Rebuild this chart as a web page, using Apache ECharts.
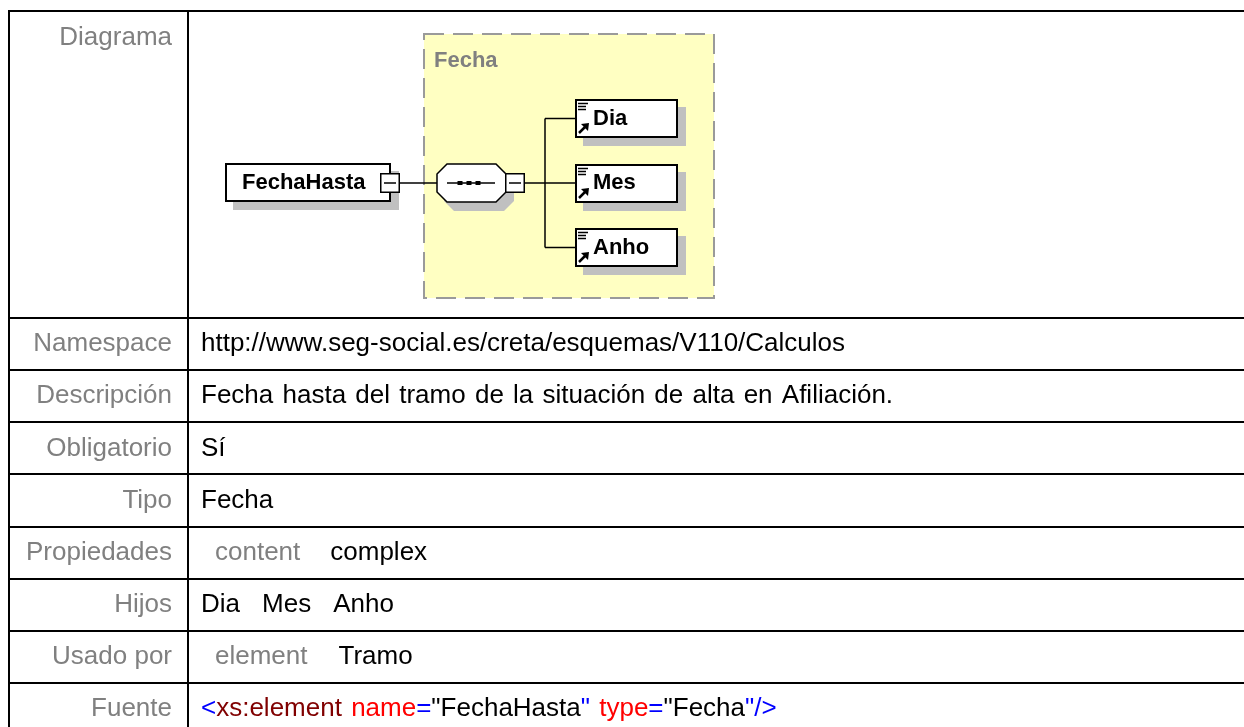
<!DOCTYPE html>
<html>
<head>
<meta charset="utf-8">
<script src="https://cdn.jsdelivr.net/npm/echarts@6/dist/echarts.min.js"></script>
<style>
html,body{margin:0;padding:0;background:#ffffff;}
#chart{width:1244px;height:727px;}
</style>
</head>
<body>
<div id="chart"></div>
<script>
// ---------- DATA ----------
const rowLabels = ['Diagrama','Namespace','Descripción','Obligatorio','Tipo','Propiedades','Hijos','Usado por','Fuente'];
const namespaceSegments   = [['http://www.seg-social.es/creta/esquemas/V110/Calculos','text']];
const descripcionSegments = [['Fecha hasta del tramo de la situación de alta en Afiliación.','text']];
const obligatorioSegments = [['Sí','text']];
const tipoSegments        = [['Fecha','text']];
const propiedadesSegments = [['content','key'],['complex','text']];
const hijosSegments       = [['Dia','text'],['Mes','text'],['Anho','text']];
const usadoPorSegments    = [['element','key'],['Tramo','text']];
const fuenteSegments      = [['<','sym'],['xs:element','tag'],[' name','attr'],['=','sym'],['"FechaHasta','text'],['"','sym'],[' type','attr'],['=','sym'],['"Fecha','text'],['"/>','sym']];
const rootElement = 'FechaHasta';
const complexTypeName = 'Fecha';
const childElements = ['Dia','Mes','Anho'];

// ---------- STYLE / LAYOUT ----------
const segColors = {text:'#000000', key:'#808080', sym:'#0000ff', tag:'#800000', attr:'#ff0000'};
const rowValues = [null, namespaceSegments, descripcionSegments, obligatorioSegments, tipoSegments,
                   propiedadesSegments, hijosSegments, usadoPorSegments, fuenteSegments];
const rowLayout = [null, {indent:0,gap:0},{indent:0,gap:0},{indent:0,gap:0},{indent:0,gap:0},
                   {indent:14,gap:30},{indent:0,gap:22},{indent:14,gap:31},{indent:0,gap:0}];
const FONT_FAMILY = '"Liberation Sans", Arial, sans-serif';
const TABLE_FONT = '26px ' + FONT_FAMILY;
const DIAG_FONT = 'bold 22px ' + FONT_FAMILY;
const WORD_EXTRA = 2;
const L = {
  left: 9, top: 11, divider: 188, right: 1300, bottom: 760,
  firstRowBottom: 318, rowH: 52.14, labelRight: 172, valueX: 201, diagLabelY: 38
};

const measure = (function(){
  const c = document.createElement('canvas').getContext('2d');
  return function(text, font){ c.font = font; return c.measureText(text).width; };
})();

const els = [];
let zc = 0;
function add(e){ e.z = zc++; e.silent = true; els.push(e); }
function line(x1,y1,x2,y2,w,color){ add({type:'line', shape:{x1,y1,x2,y2}, style:{stroke:color||'#000', lineWidth:w}}); }
function text(x,y,str,font,color,align){
  add({type:'text', x:x, y:y, style:{text:str, font:font, fill:color, textAlign:align||'left', textVerticalAlign:'middle', align:align||'left', verticalAlign:'middle'}});
}
// draws a string word by word with slightly wider spaces; returns advance
function spacedText(x,y,str,font,color){
  const sp = measure(' ', font) + WORD_EXTRA;
  const parts = str.split(' ');
  let cx = x;
  parts.forEach(function(p, i){
    if (i > 0) cx += sp;
    if (p.length) { text(cx, y, p, font, color, 'left'); cx += measure(p, font); }
  });
  return cx - x;
}
function box(x0,y0,x1,y1,opts){
  const w = opts.lineWidth || 0;
  add({type:'rect', shape:{x:x0+w/2, y:y0+w/2, width:x1-x0-w, height:y1-y0-w},
       style:{fill:opts.fill||'none', stroke:opts.stroke||null, lineWidth:w, lineDash:opts.dash||null}});
}

// ---------- TABLE ----------
line(L.left, L.top, L.right, L.top, 2);
line(L.left, L.top-1, L.left, L.bottom, 2);
line(L.divider, L.top, L.divider, L.bottom, 2);
for (let i = 0; i < rowLabels.length - 1; i++) {
  const y = Math.round(L.firstRowBottom + i * L.rowH);
  line(L.left, y, L.right, y, 2);
}
rowLabels.forEach(function(lab, i){
  const cy = (i === 0) ? L.diagLabelY : L.firstRowBottom + (i - 0.5) * L.rowH;
  text(L.labelRight, cy, lab, TABLE_FONT, '#808080', 'right');
  const segs = rowValues[i];
  if (!segs) return;
  const lay = rowLayout[i];
  let x = L.valueX + lay.indent;
  segs.forEach(function(s){
    x += spacedText(x, cy, s[0], TABLE_FONT, segColors[s[1]]) + lay.gap;
  });
});

// ---------- DIAGRAM ----------
const SH = 8; const SHADOW = '#c0c0c0';
const midY = 183;
box(423, 33, 715, 299, {fill:'#ffffc2', stroke:'#9a9a9a', lineWidth:2, dash:[20,9]});
text(434, 61, complexTypeName, DIAG_FONT, '#808080', 'left');

// root element
box(225+SH, 163+SH, 391+SH, 202+SH, {fill:SHADOW});
box(225, 163, 391, 202, {fill:'#ffffff', stroke:'#000', lineWidth:2});
text(242, midY, rootElement, DIAG_FONT, '#000', 'left');
box(380, 173, 400, 193, {fill:'#ffffff', stroke:'#000', lineWidth:1.5});
line(384, midY, 396, midY, 1.5);
line(400, midY, 437, midY, 1.5);

// sequence compositor (octagon)
function octPts(x0,y0,x1,y1,c){
  return [[x0+c,y0],[x1-c,y0],[x1,y0+c],[x1,y1-c],[x1-c,y1],[x0+c,y1],[x0,y1-c],[x0,y0+c]];
}
add({type:'polygon', shape:{points:octPts(436+SH,163+SH,506+SH,203+SH,10)}, style:{fill:SHADOW}});
add({type:'polygon', shape:{points:octPts(437,164,506,202,10)}, style:{fill:'#ffffff', stroke:'#000', lineWidth:1.5}});
line(447, midY, 495, midY, 1.5);
[460, 469, 478].forEach(function(dx){
  add({type:'rect', shape:{x:dx-2.5, y:midY-2, width:5, height:4}, style:{fill:'#000'}});
});
box(505, 173, 525, 193, {fill:'#ffffff', stroke:'#000', lineWidth:1.5});
line(509, midY, 521, midY, 1.5);
line(525, midY, 545, midY, 1.5);

// children
const childGap = 64.5;
const childCenters = childElements.map(function(_, i){ return midY + (i - (childElements.length-1)/2) * childGap; });
line(545, childCenters[0], 545, childCenters[childCenters.length-1], 1.5);
childElements.forEach(function(name, i){
  const cy = childCenters[i];
  const x0 = 575, x1 = 678, y0 = Math.round(cy - 19.5), y1 = Math.round(cy + 19.5);
  line(545, cy, 575, cy, 1.5);
  box(x0+SH, y0+SH, x1+SH, y1+SH, {fill:SHADOW});
  box(x0, y0, x1, y1, {fill:'#ffffff', stroke:'#000', lineWidth:2});
  // "≡" icon
  line(x0+3, y0+4.5, x0+13, y0+4.5, 1.5);
  line(x0+3, y0+7.5, x0+11, y0+7.5, 1.5);
  line(x0+3, y0+10.5, x0+11, y0+10.5, 1.5);
  // arrow icon
  line(x0+4, y0+34, x0+10, y0+28, 2.5);
  add({type:'polygon', shape:{points:[[x0+14,y0+24],[x0+6,y0+25],[x0+13,y0+32]]}, style:{fill:'#000'}});
  text(593, cy, name, DIAG_FONT, '#000', 'left');
});

const chart = echarts.init(document.getElementById('chart'), null, {renderer:'canvas'});
chart.setOption({
  backgroundColor:'#ffffff',
  animation:false,
  graphic:{elements:els}
});
</script>
</body>
</html>
